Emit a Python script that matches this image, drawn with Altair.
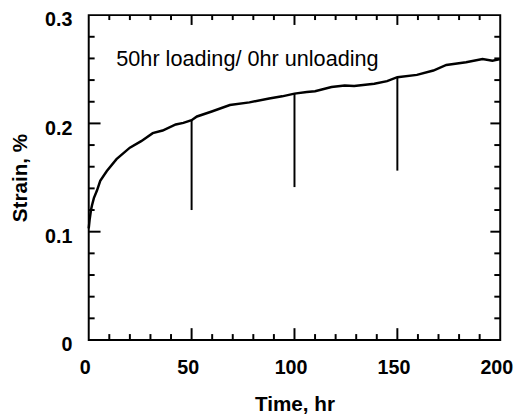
import altair as alt
import pandas as pd

# Creep curve (time in hr, strain in %)
time_hr = [0, 0.5, 1.1, 1.6, 2.5, 4, 5.6, 8.8, 13.5, 20, 25.5, 31.1, 35.9, 42.3, 46, 50,
           52.6, 59.8, 68.6, 78.1, 87.7, 94, 100, 106, 110, 118, 124.4, 129, 138.8, 145,
           150, 159.5, 167.5, 173.8, 183.4, 191.4, 196.2, 200]
strain = [0.103, 0.112, 0.12, 0.1245, 0.131, 0.138, 0.147, 0.156, 0.167, 0.1776, 0.1836,
          0.191, 0.1934, 0.199, 0.2005, 0.203, 0.2064, 0.211, 0.217, 0.2194, 0.223, 0.225,
          0.2275, 0.229, 0.2297, 0.2336, 0.235, 0.2345, 0.2366, 0.239, 0.2427, 0.2448,
          0.2488, 0.254, 0.2564, 0.2594, 0.2579, 0.2594]

# Unloading drops
unload_t = [50, 100, 150]
unload_top = [0.203, 0.2275, 0.2427]
unload_bottom = [0.12, 0.1412, 0.1564]

# Axis ticks
x_major = [50, 100, 150]
x_minor = [10, 20, 30, 40, 60, 70, 80, 90, 110, 120, 130, 140, 160, 170, 180, 190]
y_major = [0.1, 0.2]
y_minor = [0.02, 0.04, 0.06, 0.08, 0.12, 0.14, 0.16, 0.18, 0.22, 0.24, 0.26, 0.28]
x_labels = [0, 50, 100, 150, 200]
y_labels = [0, 0.1, 0.2, 0.3]

annotation = "50hr loading/ 0hr unloading"
ann_t = [13.4]
ann_v = [0.2527]

W, H = 418, 330
LBL_FONT = "Liberation Sans"

xs = alt.Scale(domain=[0, 200], nice=False)
ys = alt.Scale(domain=[0, 0.3], nice=False)

curve_df = pd.DataFrame({"t": time_hr, "v": strain})
unload_df = pd.DataFrame({"t": unload_t, "top": unload_top, "bottom": unload_bottom})
xmaj_df = pd.DataFrame({"t": x_major})
xmin_df = pd.DataFrame({"t": x_minor})
ymaj_df = pd.DataFrame({"v": y_major})
ymin_df = pd.DataFrame({"v": y_minor})
ann_df = pd.DataFrame({"t": ann_t, "v": ann_v, "label": [annotation]})

x_axis = alt.Axis(values=x_labels, ticks=False, tickSize=0, domain=False, grid=False,
                  labelFlush=False, labelOffset=-4,
                  labelFont=LBL_FONT, labelFontWeight="bold", labelFontSize=20,
                  labelColor="black", labelPadding=18,
                  title="Time, hr", titleFont=LBL_FONT, titleFontWeight="bold",
                  titleFontSize=21, titleColor="black", titlePadding=17)
y_axis = alt.Axis(values=y_labels, ticks=False, tickSize=0, domain=False, grid=False,
                  labelFlush=False,
                  labelFont=LBL_FONT, labelFontWeight="bold", labelFontSize=20,
                  labelColor="black", labelPadding=17, labelOffset=5,
                  labelExpr="datum.value == 0 ? '0' : format(datum.value, '.1f')",
                  title="Strain, %", titleFont=LBL_FONT, titleFontWeight="bold",
                  titleFontSize=21, titleColor="black", titlePadding=14)

curve = alt.Chart(curve_df).mark_line(color="black", strokeWidth=2.5).encode(
    x=alt.X("t:Q", scale=xs, axis=x_axis),
    y=alt.Y("v:Q", scale=ys, axis=y_axis),
)

drops = alt.Chart(unload_df).mark_rule(color="black", strokeWidth=2).encode(
    x=alt.X("t:Q", scale=xs),
    y=alt.Y("top:Q", scale=ys),
    y2="bottom:Q",
)

def xticks(df, length, bottom=True):
    if bottom:
        return alt.Chart(df).mark_rule(color="black", strokeWidth=2).encode(
            x=alt.X("t:Q", scale=xs), y=alt.value(H), y2=alt.value(H - length))
    return alt.Chart(df).mark_rule(color="black", strokeWidth=2).encode(
        x=alt.X("t:Q", scale=xs), y=alt.value(0), y2=alt.value(length))

def yticks(df, length, left=True):
    if left:
        return alt.Chart(df).mark_rule(color="black", strokeWidth=2).encode(
            y=alt.Y("v:Q", scale=ys), x=alt.value(0), x2=alt.value(length))
    return alt.Chart(df).mark_rule(color="black", strokeWidth=2).encode(
        y=alt.Y("v:Q", scale=ys), x=alt.value(W), x2=alt.value(W - length))

ticks = [
    xticks(xmaj_df, 12, True), xticks(xmin_df, 6, True),
    xticks(xmaj_df, 10, False), xticks(xmin_df, 5, False),
    yticks(ymaj_df, 12, True), yticks(ymin_df, 6, True),
    yticks(ymaj_df, 10, False), yticks(ymin_df, 6, False),
]

ann = alt.Chart(ann_df).mark_text(
    align="left", baseline="alphabetic", font=LBL_FONT, fontSize=22, color="black"
).encode(
    x=alt.X("t:Q", scale=xs),
    y=alt.Y("v:Q", scale=ys),
    text="label:N",
)

chart = alt.layer(curve, drops, ann, *ticks).properties(
    width=W, height=H,
    autosize=alt.AutoSizeParams(type="none"),
    padding={"left": 82, "top": 4, "right": 15, "bottom": 75},
).configure(
    background="white",
    view=alt.ViewConfig(stroke="black", strokeWidth=2),
)

chart.save("out.html", embed_options={"renderer": "svg", "actions": False})
